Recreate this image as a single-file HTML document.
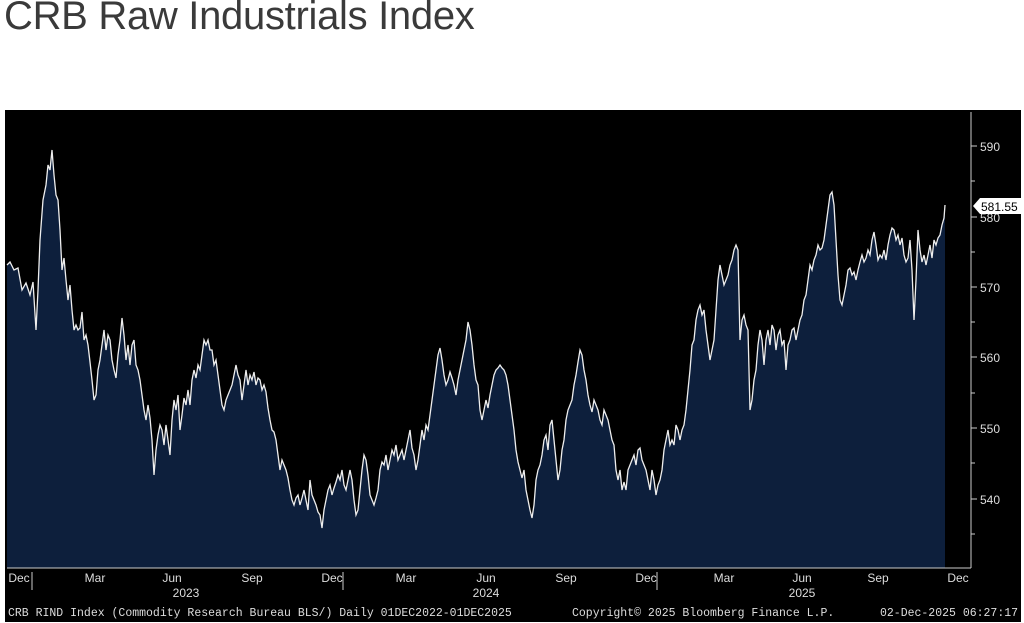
<!DOCTYPE html>
<html><head><meta charset="utf-8"><style>
body{margin:0;background:#fff;width:1024px;height:623px;overflow:hidden;font-family:"Liberation Sans",sans-serif}
.t{position:absolute;left:4px;top:-6px;font-size:40px;color:#3a3a3a;letter-spacing:-0.3px}
</style></head><body>
<div class="t">CRB Raw Industrials Index</div>
<svg style="position:absolute;left:0;top:0" width="1024" height="623">
<rect x="5" y="110" width="1016" height="512" fill="#000"/>
<polyline id="p" fill="#0d1f3c" stroke="none" points=""/>
<g font-family="Liberation Sans,sans-serif" font-size="12" fill="#ddd">
<line x1="971" y1="112" x2="971" y2="568" stroke="#ccc"/>
<line x1="7" y1="568" x2="971" y2="568" stroke="#ccc"/>
<g stroke="#ccc">
<line x1="971" y1="146" x2="977" y2="146"/><line x1="971" y1="217" x2="977" y2="217"/><line x1="971" y1="287" x2="977" y2="287"/><line x1="971" y1="357" x2="977" y2="357"/><line x1="971" y1="428" x2="977" y2="428"/><line x1="971" y1="499" x2="977" y2="499"/>
<line x1="971" y1="181" x2="975" y2="181"/><line x1="971" y1="252" x2="975" y2="252"/><line x1="971" y1="322" x2="975" y2="322"/><line x1="971" y1="393" x2="975" y2="393"/><line x1="971" y1="463" x2="975" y2="463"/><line x1="971" y1="534" x2="975" y2="534"/>
<line x1="32" y1="572" x2="32" y2="590"/><line x1="343" y1="572" x2="343" y2="590"/><line x1="657" y1="572" x2="657" y2="590"/>
</g>
<text x="980" y="151">590</text><text x="980" y="292">570</text><text x="980" y="362">560</text><text x="980" y="433">550</text><text x="980" y="504">540</text><text x="980" y="222">580</text>
<path d="M973 206 L980 198 H1021 V214 H980 Z" fill="#fff"/>
<text x="981" y="211" fill="#000">581.55</text>
<g text-anchor="middle">
<text x="19" y="582">Dec</text><text x="95" y="582">Mar</text><text x="172" y="582">Jun</text><text x="252" y="582">Sep</text><text x="332" y="582">Dec</text><text x="406" y="582">Mar</text><text x="486" y="582">Jun</text><text x="566" y="582">Sep</text><text x="646" y="582">Dec</text><text x="724" y="582">Mar</text><text x="802" y="582">Jun</text><text x="878" y="582">Sep</text><text x="958" y="582">Dec</text>
<text x="186" y="597">2023</text><text x="486" y="597">2024</text><text x="802" y="597">2025</text>
</g>
<g font-family="Liberation Mono,monospace" font-size="11.5">
<text x="8" y="616">CRB RIND Index (Commodity Research Bureau BLS/) Daily 01DEC2022-01DEC2025</text>
<text x="572" y="616">Copyright© 2025 Bloomberg Finance L.P.</text>
<text x="880" y="616">02-Dec-2025 06:27:17</text>
</g>
</g>
<polyline id="l" fill="none" stroke="#eee" stroke-width="1.3" points=""/>
</svg>
<script>
var d=[7,265,10,262,14,270,18,268,22,290,26,283,30,295,33,282,36,330,38,290,40,240,43,200,46,185,48,165,50,170,52,150,54,175,56,195,58,200,60,230,62,270,64,258,66,280,68,300,70,285,72,310,74,330,76,325,78,330,80,328,82,312,84,340,86,335,88,345,90,362,92,380,94,400,96,395,98,370,100,360,102,345,104,330,106,350,108,335,110,340,112,360,114,370,116,378,118,355,120,340,122,318,124,335,126,360,128,345,130,365,132,345,134,340,136,365,138,370,140,380,142,395,144,410,146,420,148,405,150,418,152,440,154,475,156,450,158,435,160,425,162,430,164,445,166,425,168,440,170,455,172,420,174,400,176,410,178,395,180,430,182,415,184,398,186,405,188,390,190,405,192,380,194,370,196,378,198,365,200,370,202,355,204,340,206,345,208,340,210,350,212,350,214,365,216,360,218,375,220,390,222,405,224,410,226,400,228,395,230,390,232,385,234,375,236,365,238,375,240,380,242,400,244,385,246,370,248,385,250,375,252,380,254,372,256,385,258,378,260,380,262,390,264,385,266,392,268,408,270,420,272,430,274,432,276,440,278,455,280,470,282,460,284,465,286,470,288,478,290,490,292,500,294,505,296,498,298,495,300,505,302,498,304,490,306,500,308,510,310,480,312,495,314,500,316,505,318,512,320,515,322,528,324,510,326,500,328,490,330,485,332,495,334,488,336,482,338,475,340,480,342,470,344,485,346,490,348,480,350,470,352,480,354,500,356,515,358,510,360,490,362,470,364,455,366,460,368,475,370,495,372,500,374,505,376,498,378,490,380,470,382,462,384,465,386,455,388,470,390,460,392,450,394,455,396,445,398,460,400,455,402,450,404,460,406,450,408,440,410,430,412,448,414,455,416,470,418,460,420,445,422,430,424,440,426,425,428,430,430,415,432,400,434,385,436,370,438,355,440,348,442,360,444,375,446,385,448,380,450,372,452,378,454,385,456,395,458,380,460,370,462,360,464,350,466,340,468,322,470,330,472,345,474,365,476,380,478,385,480,410,482,420,484,410,486,400,488,408,490,395,492,385,494,375,496,370,498,368,500,365,502,368,504,370,506,375,508,385,510,400,512,415,514,430,516,450,518,462,520,470,522,478,524,470,526,490,528,500,530,510,532,518,534,505,536,480,538,470,540,465,542,455,544,440,546,435,548,450,550,425,552,420,554,440,556,460,558,480,560,470,562,450,564,440,566,420,568,410,570,405,572,400,574,385,576,375,578,362,580,350,582,355,584,370,586,380,588,395,590,405,592,412,594,400,596,405,598,410,600,420,602,425,604,410,606,415,608,420,610,430,612,440,614,445,616,470,618,480,620,470,622,490,624,482,626,490,628,470,630,465,632,460,634,455,636,465,638,450,640,448,642,460,644,465,646,470,648,480,650,490,652,470,654,480,656,495,658,485,660,480,662,470,664,450,666,440,668,430,670,445,672,440,674,445,676,425,678,430,680,440,682,430,684,425,686,410,688,390,690,370,692,345,694,340,696,320,698,310,700,305,702,315,704,310,706,330,708,345,710,360,712,350,714,340,716,310,718,280,720,265,722,275,724,285,726,280,728,275,730,265,732,260,734,250,736,245,738,250,740,340,742,320,744,315,746,325,748,330,750,410,752,400,754,380,756,370,758,345,760,330,762,340,764,365,766,340,768,330,770,345,772,325,774,330,776,350,778,335,780,330,782,345,784,340,786,370,788,345,790,340,792,330,794,328,796,340,798,330,800,320,802,315,804,300,806,295,808,280,810,265,812,270,814,260,816,255,818,245,820,250,822,248,824,240,826,225,828,210,830,195,832,192,834,205,836,240,838,275,840,300,842,305,844,295,846,285,848,270,850,268,852,275,854,272,856,280,858,270,860,262,862,255,864,262,866,258,868,250,870,255,872,240,874,232,876,245,878,260,880,255,882,258,884,250,886,260,888,245,890,235,892,228,894,230,896,240,898,235,900,245,902,238,904,255,906,262,908,258,910,240,912,270,914,320,916,280,918,230,920,250,922,262,924,255,926,265,928,255,930,245,932,258,934,240,936,245,938,238,940,235,942,225,944,218,945,205];
var s=[];for(var i=0;i<d.length;i+=2)s.push(d[i]+","+d[i+1]);
document.getElementById('l').setAttribute('points',s.join(' '));
document.getElementById('p').setAttribute('points','7,568 '+s.join(' ')+' 945,568');
</script>
</body></html>
